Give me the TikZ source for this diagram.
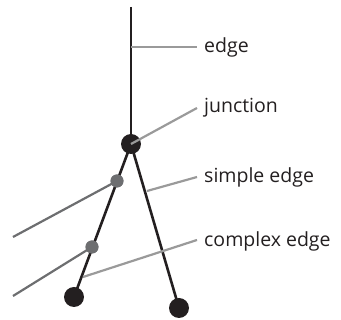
\documentclass[tikz,border=0pt]{standalone}
\usepackage{fontspec}
\setmainfont{Open Sans}
\definecolor{ink}{HTML}{231F20}
\definecolor{lead}{HTML}{9A9A9A}
\definecolor{midgray}{HTML}{6D6E70}
\begin{document}
\begin{tikzpicture}[x=1pt,y=-1pt,
  blackdot/.style={circle,fill=ink,inner sep=0pt,minimum size=20pt},
  graydot/.style={circle,fill=midgray,inner sep=0pt,minimum size=13pt},
  branch/.style={draw=ink,line width=2.6pt},
  leader/.style={draw=lead,line width=2.2pt},
  side/.style={draw=midgray,line width=2.2pt},
  lbl/.style={anchor=west,inner sep=0pt,font=\fontsize{19.5}{22}\selectfont,text=ink}]
\useasboundingbox (0,0) rectangle (341,320);
% nodes
\coordinate (top) at (131,7);
\node[blackdot] (J) at (131,144) {};
\node[blackdot] (BL) at (74,297) {};
\node[blackdot] (BR) at (179,308) {};
% branches
\draw[branch] (top) -- (J.center);
\draw[branch] (J.center) -- (BL.center);
\draw[branch] (J.center) -- (BR.center);
% gray junctions on the left branch
\node[graydot] (G1) at (117,181) {};
\node[graydot] (G2) at (92,247) {};
\coordinate (S1) at (13,237);
\coordinate (S2) at (13,296);
\draw[side] (G1.center) -- (S1);
\draw[side] (G2.center) -- (S2);
\node[graydot] at (G1) {};
\node[graydot] at (G2) {};
% labels
\node[lbl] (Ledge) at (204,47) {edge};
\node[lbl] (Ljunc) at (204,108) {junction};
\node[lbl] (Lsimple) at (204,177) {simple edge};
\node[lbl] (Lcomplex) at (204,241) {complex edge};
% leader lines
\coordinate (Pedge) at (131,47);
\coordinate (Psimple) at (147,191);
\coordinate (Pcomplex) at (83,277);
\draw[leader] (Pedge) -- (197,47);
\draw[leader] (J.center) -- (197,108);
\draw[leader] (Psimple) -- (197,177);
\draw[leader] (Pcomplex) -- (197,240);
\end{tikzpicture}
\end{document}
